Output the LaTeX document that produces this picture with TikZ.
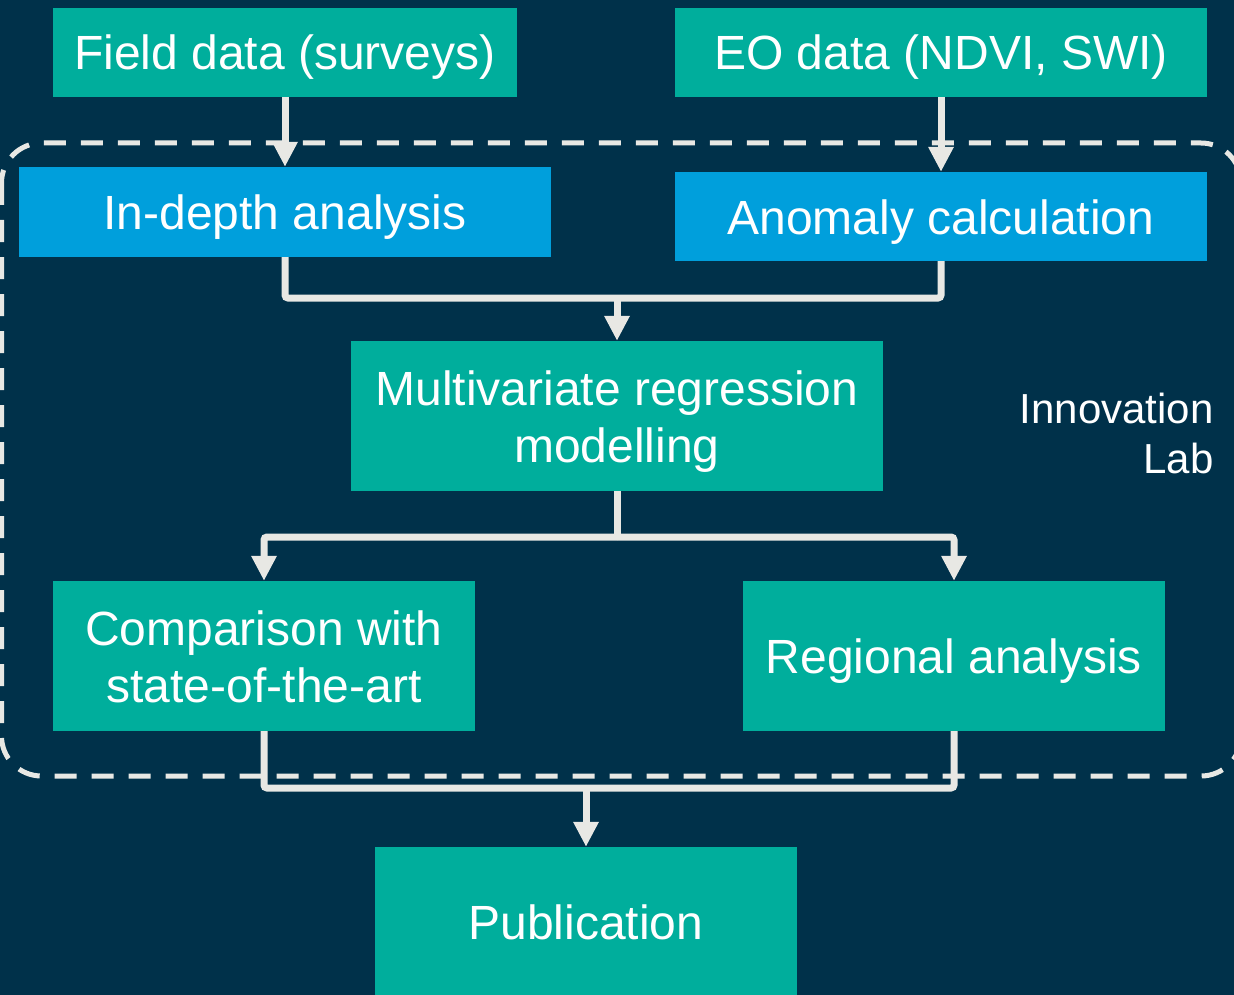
\documentclass[tikz,border=0pt]{standalone}
\usepackage{fontspec}
\setmainfont{Liberation Sans}
\definecolor{navy}{HTML}{00314A}
\definecolor{boxteal}{HTML}{00AE9C}
\definecolor{boxblue}{HTML}{009FDC}
\definecolor{linegray}{HTML}{E8E8E4}
\usetikzlibrary{arrows.meta}

\begin{document}
\begin{tikzpicture}[x=1pt,y=-1pt,>={Triangle[width=24pt,length=25pt]},
  every node/.style={font=\fontsize{48}{57}\selectfont,text=white},
  tealbox/.style={fill=boxteal,inner sep=0pt,align=center,text height=35pt,text depth=0pt},
  bluebox/.style={fill=boxblue,inner sep=0pt,align=center,text height=35pt,text depth=0pt},
  twolines/.style={text height=92pt,text depth=0pt},
  link/.style={draw=linegray,line width=7pt,rounded corners=3pt}]
\useasboundingbox (0,0) rectangle (1234,995);
\fill[navy] (0,0) rectangle (1234,995);
% innovation lab frame
\draw[linegray,line width=5pt,dash pattern=on 22pt off 15pt,rounded corners=40pt] (1.5,143) rectangle (1241,776);
\node[align=right,anchor=east,font=\fontsize{42}{50}\selectfont] (lab) at (1217,433) {Innovation\\Lab};
% boxes
\node[tealbox,minimum width=464pt,minimum height=89pt] (field) at (285,52.5) {Field data (surveys)};
\node[tealbox,minimum width=532pt,minimum height=89pt] (eo) at (941,52.5) {EO data (NDVI, SWI)};
\node[bluebox,minimum width=532pt,minimum height=90pt] (indepth) at (285,212) {In-depth analysis};
\node[bluebox,minimum width=532pt,minimum height=89pt] (anomaly) at (941,216.5) {Anomaly calculation};
\node[tealbox,twolines,minimum width=532pt,minimum height=150pt] (mv) at (617,416) {Multivariate regression\\modelling};
\node[tealbox,twolines,minimum width=422pt,minimum height=150pt] (comp) at (264,656) {Comparison with\\state-of-the-art};
\node[tealbox,minimum width=422pt,minimum height=150pt] (reg) at (954,656) {Regional analysis};
\node[tealbox,minimum width=422pt,minimum height=150pt] (pub) at (586,922) {Publication};
% junctions
\coordinate (j1) at (617,298);
\coordinate (j2) at (617,537);
\coordinate (j3) at (586,788);
% connectors
\draw[link,->] (field) -- (indepth);
\draw[link,->] (eo) -- (anomaly);
\draw[link] (indepth.south) |- (j1) -| (anomaly.south);
\draw[link,->] (j1) -- (mv);
\draw[link] (mv) -- (j2);
\draw[link,->] (j2) -| (comp.north);
\draw[link,->] (j2) -| (reg.north);
\draw[link] (comp.south) |- (j3) -| (reg.south);
\draw[link,->] (j3) -- (pub);
\end{tikzpicture}
\end{document}
